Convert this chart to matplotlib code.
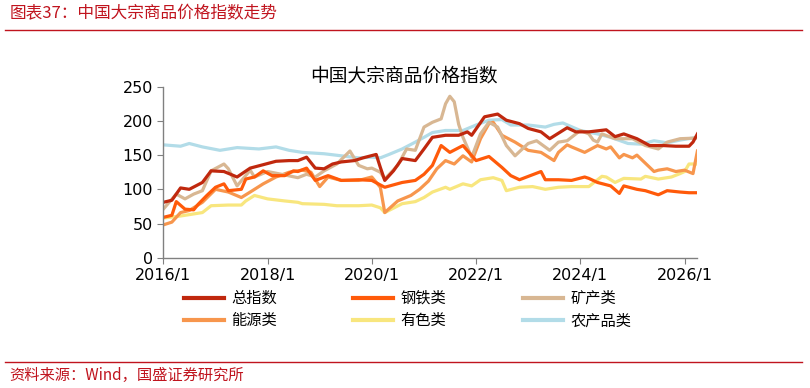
import numpy as np
import pandas as pd
import matplotlib
matplotlib.use('Agg')
import matplotlib.pyplot as plt
from matplotlib.lines import Line2D

plt.rcParams['font.family'] = ['Noto Sans CJK SC', 'DejaVu Sans']

# month offsets from 2016/1 and index values
total_m = [0, 2, 4, 6, 9, 11, 14, 17, 20, 23, 26, 29, 31, 33, 35, 37, 39, 41, 44, 46, 49, 50, 51, 53, 55, 58, 60,
           62, 65, 68, 70, 71, 74, 77, 79, 82, 84, 87, 89, 91, 93, 95, 98, 102, 104, 106, 109, 112, 115, 118,
           121, 122, 123]
total_v = [81, 84, 102, 100, 110, 127, 126, 118, 131, 136, 141, 142, 142, 147, 131, 130, 137, 140, 142, 146, 151,
           132, 113, 127, 145, 142, 159, 176, 179, 179, 184, 179, 206, 210, 201, 196, 189, 184, 174, 182, 190, 184,
           184, 187, 177, 181, 174, 164, 164, 163, 163, 169, 181]

steel_m = [0, 2, 3, 5, 7, 8, 10, 12, 14, 15, 18, 19, 21, 23, 25, 28, 30, 31, 33, 35, 38, 41, 45, 48, 51, 55, 58,
           60, 62, 64, 66, 69, 72, 75, 78, 80, 82, 87, 88, 91, 94, 97, 98, 100, 103, 105, 106, 109, 111, 114,
           116, 119, 121, 123]
steel_v = [59, 62, 82, 71, 70, 78, 91, 103, 108, 98, 100, 115, 118, 127, 120, 120, 127, 126, 131, 113, 120, 113,
           114, 113, 103, 110, 113, 122, 135, 164, 154, 164, 142, 148, 132, 120, 114, 126, 114, 114, 113, 118,
           116, 110, 105, 94, 105, 100, 98, 92, 98, 96, 95, 95]

mineral_m = [0, 3, 5, 7, 9, 11, 14, 15, 17, 20, 21, 24, 28, 31, 33, 35, 37, 40, 43, 45, 47, 48, 50, 51, 54, 56,
             58, 60, 62, 64, 65, 66, 67, 68, 69, 71, 73, 75, 77, 79, 81, 84, 86, 89, 91, 93, 96, 98, 99, 100,
             101, 104, 108, 111, 114, 116, 119, 123]
mineral_v = [71, 93, 86, 93, 98, 127, 137, 130, 105, 128, 118, 126, 121, 117, 122, 118, 127, 137, 156, 135, 130,
             131, 125, 115, 135, 159, 157, 191, 198, 203, 225, 236, 228, 195, 176, 147, 181, 198, 191, 164, 149,
             167, 171, 157, 169, 171, 186, 181, 172, 169, 181, 174, 174, 164, 159, 169, 174, 175]

energy_m = [0, 2, 4, 6, 9, 12, 15, 18, 20, 23, 26, 29, 32, 34, 36, 38, 41, 45, 48, 50, 51, 54, 57, 59, 61, 63,
            65, 67, 69, 71, 73, 75, 76, 78, 81, 84, 87, 90, 91, 93, 94, 97, 100, 102, 103, 105, 106, 108, 109,
            113, 114, 116, 118, 120, 122, 123]
energy_v = [48, 52, 66, 69, 81, 100, 96, 88, 96, 108, 118, 125, 128, 125, 104, 118, 113, 113, 118, 103, 66, 83,
            91, 100, 112, 130, 142, 137, 149, 140, 174, 196, 198, 179, 169, 157, 154, 142, 154, 165, 162, 154,
            164, 159, 162, 146, 151, 146, 150, 126, 128, 130, 126, 128, 123, 156]

metal_m = [0, 4, 7, 9, 11, 15, 18, 19, 21, 24, 28, 31, 32, 37, 40, 45, 48, 50, 51, 55, 58, 60, 62, 65, 66, 69,
           71, 73, 76, 78, 79, 82, 85, 88, 91, 94, 98, 101, 102, 104, 106, 110, 111, 114, 117, 119, 120, 121, 123]
metal_v = [58, 61, 64, 66, 76, 77, 77, 83, 91, 86, 83, 81, 79, 78, 76, 76, 77, 73, 66, 79, 82, 88, 96, 103, 100,
           108, 105, 114, 117, 113, 98, 103, 104, 100, 103, 104, 104, 119, 118, 110, 116, 115, 119, 115, 118, 123,
           126, 137, 137]

agri_m = [0, 4, 6, 9, 13, 17, 22, 26, 29, 32, 37, 41, 45, 48, 50, 52, 55, 58, 60, 62, 65, 69, 72, 75, 78, 80, 84,
          88, 90, 92, 96, 100, 103, 107, 110, 113, 116, 119, 123]
agri_v = [165, 163, 167, 162, 157, 161, 159, 162, 157, 154, 152, 149, 146, 147, 146, 151, 159, 169, 176, 183, 186,
          186, 194, 201, 202, 194, 194, 191, 195, 197, 186, 181, 176, 167, 166, 171, 168, 172, 176]

names = ['总指数', '钢铁类', '矿产类', '能源类', '有色类', '农产品类']
colors = ['#C0280E', '#FF5A0A', '#D8B793', '#F7964D', '#F8E67E', '#B2DCE8']
series = [(total_m, total_v), (steel_m, steel_v), (mineral_m, mineral_v),
          (energy_m, energy_v), (metal_m, metal_v), (agri_m, agri_v)]

start = pd.Timestamp('2016-01-01')


def to_dates(months):
    return [start + pd.DateOffset(months=int(m)) for m in months]


fig = plt.figure(figsize=(8.1, 3.88), dpi=100)
ax = fig.add_axes([0.2016, 0.3358, 0.6594, 0.4407])

draw_order = [5, 4, 3, 2, 1, 0]
for i in draw_order:
    m, v = series[i]
    ax.plot(to_dates(m), v, color=colors[i], lw=2.3, solid_joinstyle='round')

ax.set_ylim(0, 250)
ax.set_yticks([0, 50, 100, 150, 200, 250])
ax.set_xlim(pd.Timestamp('2016-01-01'), pd.Timestamp('2026-04-01'))
xt = [pd.Timestamp(f'{y}-01-01') for y in range(2016, 2027, 2)]
ax.set_xticks(xt)
ax.set_xticklabels([f'{t.year}/1' for t in xt])
for s in ['top', 'right']:
    ax.spines[s].set_visible(False)
for s in ['left', 'bottom']:
    ax.spines[s].set_color('#808080')
    ax.spines[s].set_linewidth(1.0)
ax.tick_params(axis='both', labelsize=11.5, color='#808080', length=4, direction='out')
for lab in ax.get_xticklabels() + ax.get_yticklabels():
    lab.set_family('DejaVu Sans')

ax.set_title('中国大宗商品价格指数', fontsize=13.5, pad=0, x=0.45)

# legend filled row by row, as in the original
order = [0, 3, 1, 4, 2, 5]
handles = [Line2D([0], [0], color=colors[i], lw=3) for i in order]
fig.legend(handles, [names[i] for i in order], loc='upper left', bbox_to_anchor=(0.21, 0.288), ncol=3,
           frameon=False, fontsize=11, handlelength=2.6, columnspacing=5.0,
           labelspacing=0.35, handletextpad=0.5)

red = '#C0141E'
fig.text(0.012, 0.965, '图表37：中国大宗商品价格指数走势', color=red, fontsize=12,
         va='center', ha='left', style='italic')
fig.add_artist(Line2D([0.006, 0.99], [0.922, 0.922], color=red, lw=1.0))
fig.add_artist(Line2D([0.006, 0.99], [0.068, 0.068], color=red, lw=1.0))
fig.text(0.012, 0.032, '资料来源：Wind，国盛证券研究所', color=red, fontsize=11,
         va='center', ha='left', style='italic')

fig.savefig('out.png', dpi=100)
